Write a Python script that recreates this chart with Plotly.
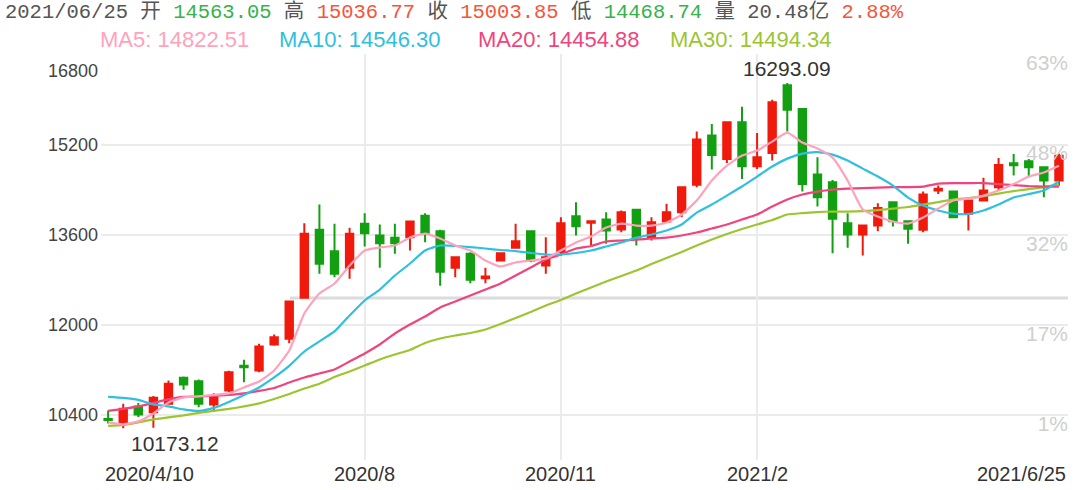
import plotly.graph_objects as go
import pandas as pd

# ---------------- data ----------------
dates = pd.date_range("2020-04-10", periods=64, freq="7D")

opens = [10338, 10271, 10559, 10458, 10607, 11068, 11007, 10595, 10843, 11280,
         11197, 11657, 11758, 12484, 13689, 13310, 13016, 13795, 13588, 13547,
         13558, 13937, 13664, 13016, 13264, 12832, 13145, 13370, 13664, 13056,
         13292, 13930, 13813, 13871, 13694, 14043, 13558, 13836, 14000, 14486,
         15359, 14946, 15594, 14815, 15052, 16250, 15832, 14668, 14532, 13806,
         13606, 13765, 14178, 13841, 13689, 14385, 14367, 13972, 14208, 14443,
         14868, 14904, 14797, 14563.05]
highs = [10489, 10607, 10618, 10742, 11020, 11091, 11038, 10795, 11192, 11386,
         11670, 11835, 12430, 13806, 14137, 13795, 13724, 13983, 13783, 13795,
         13854, 13983, 13689, 13215, 13292, 13016, 13292, 13795, 13670, 13558,
         13912, 14178, 13846, 14000, 14031, 14048, 13912, 14149, 14455, 15430,
         15566, 15607, 15872, 15407, 15996, 16293.09, 15840, 14974, 14574, 13983,
         13783, 14160, 14190, 13854, 14367, 14473, 14385, 14215, 14610, 14964,
         15035, 14946, 14810, 15036.77]
lows = [10258, 10173.12, 10370, 10182, 10595, 10855, 10547, 10489, 10813, 10990,
        11167, 11634, 11680, 12470, 12910, 12849, 12821, 13393, 13016, 13264,
        13322, 13469, 12697, 12849, 12743, 12743, 13133, 13352, 13115, 12910,
        13234, 13588, 13411, 13441, 13646, 13411, 13499, 13823, 13912, 14443,
        14757, 14875, 14592, 14769, 14916, 15430, 14367, 14101, 13274, 13370,
        13234, 13664, 13747, 13441, 13646, 14326, 13901, 13676, 14195, 14397,
        14650, 14620, 14266, 14468.74]
closes = [10320, 10519, 10418, 10713, 10961, 10949, 10607, 10724, 11167, 11255,
          11622, 11787, 12419, 13618, 13087, 12910, 13618, 13629, 13451, 13451,
          13836, 13618, 12945, 13203, 12803, 12862, 13274, 13487, 13145, 13203,
          13806, 13753, 13841, 13676, 14000, 13558, 13823, 14000, 14443, 15288,
          15017, 15594, 14815, 14974, 15949, 15819, 14503, 14266, 13884, 13606,
          13765, 14078, 13841, 13706, 14314, 14415, 13912, 14208, 14385, 14840,
          14833, 14797, 14562, 15003.85]

ma5 = [10276, 10241, 10294, 10435, 10630, 10719, 10736, 10763, 10790, 10896,
       11002, 11197, 11551, 12206, 12561, 12738, 13056, 13322, 13375, 13411,
       13552, 13623, 13535, 13411, 13322, 13145, 13040, 13110, 13145, 13180,
       13322, 13464, 13570, 13729, 13800, 13765, 13765, 13818, 13960, 14208,
       14562, 14827, 15005, 15093, 15253, 15412, 15235, 15129, 14969, 14562,
       14048, 13924, 13836, 13800, 13907, 14066, 14208, 14243, 14296, 14385,
       14500, 14633, 14704, 14822.51]
ma10 = [10728, 10710, 10675, 10595, 10559, 10506, 10480, 10533, 10639, 10763,
        10896, 11073, 11277, 11533, 11711, 11888, 12171, 12437, 12631, 12879,
        13092, 13322, 13411, 13402, 13384, 13358, 13331, 13313, 13278, 13251,
        13251, 13278, 13322, 13393, 13464, 13552, 13606, 13676, 13783, 13995,
        14137, 14296, 14456, 14633, 14810, 14951, 15040, 15067, 15022, 14916,
        14774, 14633, 14473, 14261, 14119, 14031, 13977, 13969, 14031, 14137,
        14261, 14323, 14385, 14546.30]
ma20 = [10480, 10515, 10559, 10621, 10683, 10728, 10736, 10745, 10763, 10790,
        10834, 10887, 10984, 11073, 11144, 11215, 11356, 11498, 11657, 11852,
        12012, 12153, 12313, 12419, 12525, 12631, 12738, 12879, 13021, 13163,
        13251, 13358, 13402, 13482, 13499, 13517, 13535, 13552, 13588, 13641,
        13712, 13783, 13871, 13960, 14101, 14225, 14314, 14367, 14402, 14420,
        14429, 14438, 14447, 14447, 14455, 14509, 14518, 14518, 14518, 14500,
        14482, 14464, 14455, 14454.88]
ma30 = [10214, 10232, 10276, 10329, 10365, 10400, 10444, 10480, 10515, 10559,
        10613, 10692, 10781, 10878, 10961, 11082, 11179, 11285, 11392, 11480,
        11560, 11684, 11764, 11817, 11861, 11923, 12020, 12127, 12233, 12348,
        12446, 12561, 12667, 12773, 12871, 12968, 13083, 13189, 13296, 13411,
        13517, 13614, 13703, 13783, 13862, 13960, 13986, 14004, 14013, 14013,
        14022, 14039, 14066, 14093, 14137, 14181, 14225, 14252, 14287, 14332,
        14376, 14411, 14447, 14494.34]

y_ticks = [10400, 12000, 13600, 15200, 16800]
y_tick_text = ["10400", "12000", "13600", "15200", "16800"]
pct_text = ["1%", "17%", "32%", "48%", "63%"]
x_tick_dates = ["2020-08-07", "2020-11-06", "2021-02-05"]
x_tick_text = ["2020/8", "2020/11", "2021/2"]
x_first_label = "2020/4/10"
x_last_label = "2021/6/25"
volume_text = "20.48亿"
change_text = "2.88%"

# ---------------- colours ----------------
RED = "#f01a0c"
GREEN = "#12a012"
C_MA5 = "#ffa2bb"
C_MA10 = "#2fbfe0"
C_MA20 = "#f0447c"
C_MA30 = "#9cc531"
TXT_GREEN = "#36b24a"
TXT_RED = "#f4563c"
TXT_GRAY = "#555555"

W, H = 1080, 490
L, R, T, B = 101, 12, 54, 30
pw, ph = W - L - R, H - T - B


def px2paper_x(px):
    return (px - L) / pw


def px2paper_y(py):
    return (H - B - py) / ph


x_right = dates[-1] + pd.Timedelta(days=4.2)
x_left = dates[0] - pd.Timedelta(days=3.3)

fig = go.Figure()
# percent labels drawn first so that candles cover them
fig.add_trace(go.Scatter(
    x=[x_right] * len(y_ticks), y=y_ticks, text=pct_text, mode="text",
    textposition="bottom left", cliponaxis=False, hoverinfo="skip", showlegend=False,
    textfont=dict(family="Liberation Sans, Arial", size=21, color="#cfcfcf"),
))
fig.add_trace(go.Candlestick(
    x=dates, open=opens, high=highs, low=lows, close=closes,
    increasing=dict(line=dict(color=RED, width=2), fillcolor=RED),
    decreasing=dict(line=dict(color=GREEN, width=2), fillcolor=GREEN),
    whiskerwidth=0, hoverinfo="skip", showlegend=False,
))
for vals, col in [(ma30, C_MA30), (ma20, C_MA20), (ma10, C_MA10), (ma5, C_MA5)]:
    fig.add_trace(go.Scatter(x=dates, y=vals, mode="lines",
                             line=dict(color=col, width=2.2, shape="spline", smoothing=0.5),
                             hoverinfo="skip", showlegend=False))

ann = []
# left y labels
for v, t in zip(y_ticks, y_tick_text):
    top = v == max(y_ticks)
    ann.append(dict(x=0, xref="paper", y=v, yref="y", text=t, xanchor="right",
                    yanchor="top" if top else "middle",
                    xshift=-1, yshift=-5 if top else 0, showarrow=False,
                    font=dict(family="Liberation Sans, Arial", size=18, color="#444444")))
# x labels
for d, t in zip(x_tick_dates, x_tick_text):
    ann.append(dict(x=d, xref="x", y=0, yref="paper", text=t, xanchor="center",
                    yanchor="middle", yshift=-14, showarrow=False,
                    font=dict(family="Liberation Sans, Arial", size=20, color="#333333")))
ann.append(dict(x=0, xref="paper", y=0, yref="paper", text=x_first_label, xanchor="left",
                yanchor="middle", yshift=-14, xshift=2, showarrow=False,
                font=dict(family="Liberation Sans, Arial", size=20, color="#333333")))
ann.append(dict(x=1, xref="paper", y=0, yref="paper", text=x_last_label, xanchor="right",
                yanchor="middle", yshift=-14, showarrow=False,
                font=dict(family="Liberation Sans, Arial", size=20, color="#333333")))

# max / min labels
imax = highs.index(max(highs))
imin = lows.index(min(lows))
ann.append(dict(x=dates[imax], y=max(highs), text=f"{max(highs):.2f}", showarrow=False,
                yanchor="bottom", yshift=1,
                font=dict(family="Liberation Sans, Arial", size=21, color="#333333")))
ann.append(dict(x=dates[imin], y=min(lows), text=f"{min(lows):.2f}", showarrow=False,
                xanchor="left", yanchor="top", xshift=6, yshift=-2,
                font=dict(family="Liberation Sans, Arial", size=21, color="#333333")))

# header line 1
d = dates[-1]
hdr = (f"<span style='color:{TXT_GRAY}'>{d.strftime('%Y/%m/%d')} 开 </span>"
       f"<span style='color:{TXT_GREEN}'>{opens[-1]:.2f}</span>"
       f"<span style='color:{TXT_GRAY}'> 高 </span>"
       f"<span style='color:{TXT_RED}'>{highs[-1]:.2f}</span>"
       f"<span style='color:{TXT_GRAY}'> 收 </span>"
       f"<span style='color:{TXT_RED}'>{closes[-1]:.2f}</span>"
       f"<span style='color:{TXT_GRAY}'> 低 </span>"
       f"<span style='color:{TXT_GREEN}'>{lows[-1]:.2f}</span>"
       f"<span style='color:{TXT_GRAY}'> 量 {volume_text} </span>"
       f"<span style='color:{TXT_RED}'>{change_text}</span>")
ann.append(dict(x=px2paper_x(3), y=px2paper_y(12), xref="paper", yref="paper", text=hdr,
                showarrow=False, xanchor="left", yanchor="middle",
                font=dict(family="Liberation Mono, Noto Sans CJK SC", size=20.5, color=TXT_GRAY)))

# header line 2 (MA legend)
for name, vals, col, px in [("MA5", ma5, C_MA5, 98), ("MA10", ma10, C_MA10, 277),
                            ("MA20", ma20, C_MA20, 476), ("MA30", ma30, C_MA30, 668)]:
    ann.append(dict(x=px2paper_x(px), y=px2paper_y(40), xref="paper", yref="paper",
                    text=f"{name}: {vals[-1]:.2f}", showarrow=False, xanchor="left",
                    yanchor="middle",
                    font=dict(family="Liberation Sans, Arial", size=22, color=col)))

shapes = [dict(type="line", xref="paper", yref="paper", x0=px2paper_x(290), x1=1,
               y0=px2paper_y(298), y1=px2paper_y(298),
               line=dict(color="#dcdcdc", width=3), layer="below")]

fig.update_layout(
    width=W, height=H, margin=dict(l=L, r=R, t=T, b=B),
    paper_bgcolor="white", plot_bgcolor="white",
    annotations=ann, shapes=shapes, showlegend=False,
    xaxis=dict(type="date", range=[x_left, x_right],
               tickvals=x_tick_dates, showticklabels=False, showgrid=True,
               gridcolor="#ebebeb", gridwidth=2, zeroline=False, showline=False,
               rangeslider=dict(visible=False), fixedrange=True),
    yaxis=dict(range=[9610, 16805], tickvals=y_ticks, showticklabels=False,
               showgrid=True, gridcolor="#ebebeb", gridwidth=2, zeroline=False,
               showline=False, fixedrange=True),
    boxgap=0.3,
)
fig.write_html("out.html", config={"displayModeBar": False, "staticPlot": True},
               post_script="document.body.style.margin='0';document.body.style.overflow='hidden';")
